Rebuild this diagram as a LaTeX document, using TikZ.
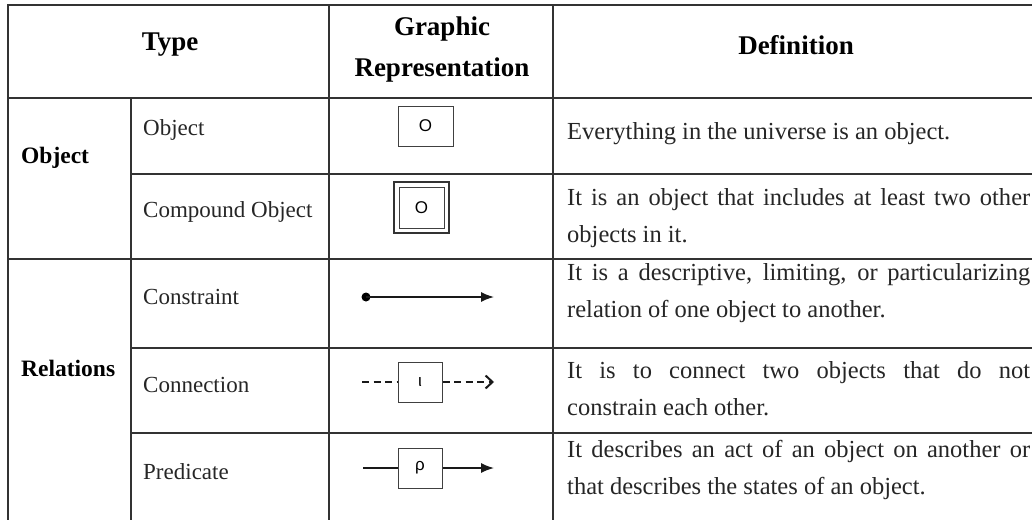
\documentclass[tikz,border=0pt]{standalone}
\usepackage{fontspec}
\setmainfont{Liberation Serif}
\newfontfamily\symfont{Liberation Sans}
\usetikzlibrary{arrows.meta}
\begin{document}
\begin{tikzpicture}[x=1pt,y=-1pt,
  grid/.style={draw=black!80, line width=1.6pt},
  hdr/.style={font=\fontsize{27}{41}\selectfont\bfseries, align=center, inner sep=0pt},
  cell/.style={font=\fontsize{23}{35}\selectfont, anchor=west, inner sep=0pt, text=black!85},
  grp/.style={font=\fontsize{23.5}{35}\selectfont\bfseries, anchor=west, inner sep=0pt},
  defn/.style={font=\fontsize{24.5}{37}\selectfont, anchor=west, align=left, inner sep=0pt, text=black!85},
  symbox/.style={draw=black!75, line width=1pt, minimum width=44pt, minimum height=40pt, inner sep=0pt, font=\symfont\fontsize{17}{17}\selectfont},
  conn/.style={line width=1.5pt, draw=black!90}
]
\useasboundingbox (0,0) rectangle (1032,519);
\clip (0,0) rectangle (1032,519);
\fill[white] (0,0) rectangle (1032,519);
% grid
\draw[grid] (8,530) -- (8,5) -- (1045,5);
\draw[grid] (8,98) -- (1045,98);
\draw[grid] (131,174) -- (1045,174);
\draw[grid] (8,259) -- (1045,259);
\draw[grid] (131,348) -- (1045,348);
\draw[grid] (131,433) -- (1045,433);
\draw[grid] (131,98) -- (131,530);
\draw[grid] (329,5) -- (329,530);
\draw[grid] (553,5) -- (553,530);
% headers
\node[hdr] (hType) at (170,45) {Type};
\node[hdr] (hGraph) at (442,50) {Graphic\\Representation};
\node[hdr] (hDef) at (796,45) {Definition};
% groups
\node[grp] (gObj) at (21,158) {Object};
\node[grp] (gRel) at (21,368) {Relations};
% types
\node[cell] (tObj) at (143,130) {Object};
\node[cell] (tCmp) at (143,212) {Compound Object};
\node[cell] (tCon) at (143,297) {Constraint};
\node[cell] (tCnn) at (143,385) {Connection};
\node[cell] (tPre) at (143,472) {Predicate};
% graphics
\node[symbox, minimum width=55pt] (objbox) at (425.5,126) {O};
\node[symbox, minimum width=45pt, minimum height=41pt] (cmpbox) at (421.5,207.5) {O};
\draw[line width=2.6pt, draw=black!80] ([shift={(-4.5pt,4.5pt)}]cmpbox.north west) rectangle ([shift={(4.5pt,-4.5pt)}]cmpbox.south east);
\coordinate (c1) at (366,297);
\coordinate (c2) at (494,297);
\fill[black] (c1) circle (4.5pt);
\draw[conn,-{Latex[length=13pt,width=10pt]}] (c1) -- (c2);
\node[symbox] (ibox) at (420,382) {ι};
\coordinate (i1) at (362,382);
\coordinate (i2) at (494,382);
\draw[conn, dash pattern=on 7pt off 4.5pt] (i1) -- (ibox.west);
\draw[conn, dash pattern=on 7pt off 4.5pt, -{Straight Barb[length=7pt,width=13pt,line width=2pt]}] (ibox.east) -- (i2);
\node[symbox] (pbox) at (420,468) {ρ};
\coordinate (p1) at (363,468);
\coordinate (p2) at (494,468);
\draw[conn] (p1) -- (pbox.west);
\draw[conn,-{Latex[length=13pt,width=10pt]}] (pbox.east) -- (p2);
% definitions
\node[defn] (d1) at (567,134) {Everything in the universe is an object.};
\node[defn] (d2) at (567,218) {\makebox[463pt][s]{It is an object that includes at least two other}\\objects in it.};
\node[defn] (d3) at (567,293) {\makebox[463pt][s]{It is a descriptive, limiting, or particularizing}\\relation of one object to another.};
\node[defn] (d4) at (567,389) {\makebox[463pt][s]{It is to connect two objects that do not}\\constrain each other.};
\node[defn] (d5) at (567,470) {\makebox[463pt][s]{It describes an act of an object on another or}\\that describes the states of an object.};
\end{tikzpicture}
\end{document}
